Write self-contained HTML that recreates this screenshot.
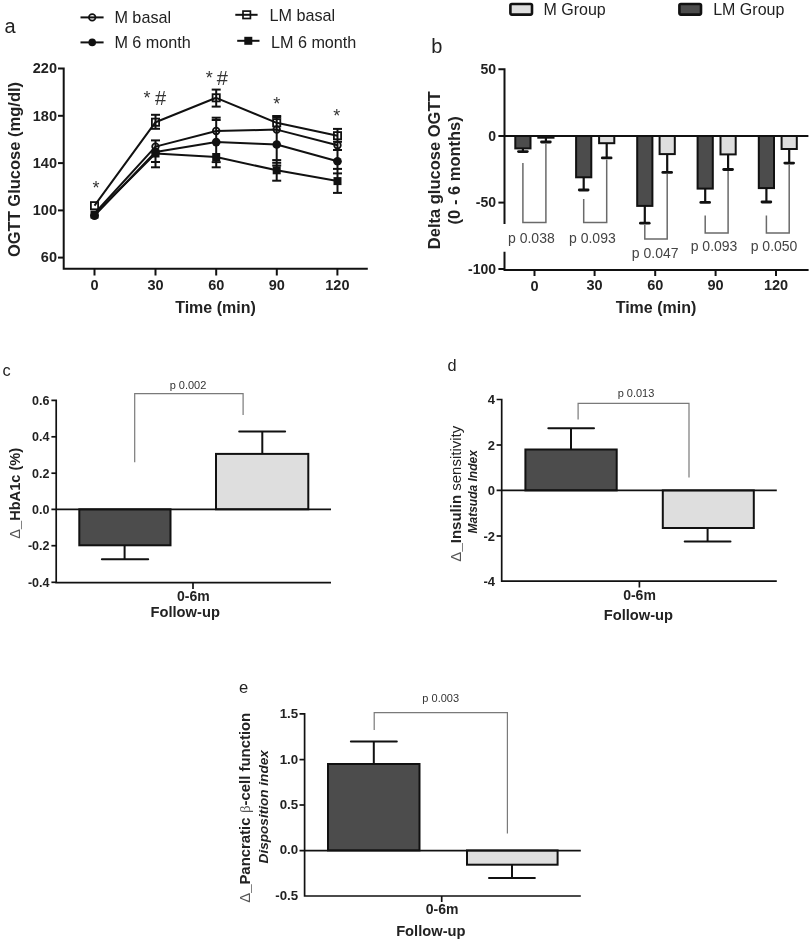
<!DOCTYPE html>
<html><head><meta charset="utf-8"><style>
html,body{margin:0;padding:0;background:#fff;}
svg{display:block;filter:grayscale(1) blur(0.4px);}
text{font-family:"Liberation Sans",sans-serif;}
.b{font-weight:bold;}
</style></head><body>
<svg width="811" height="943" viewBox="0 0 811 943">
<rect width="811" height="943" fill="#fff"/>

<!-- ================= PANEL A ================= -->
<g id="A">
<text x="4.6" y="33.4" font-size="20" fill="#222">a</text>
<!-- legend -->
<g stroke="#111" stroke-width="2" fill="none">
<line x1="80.5" y1="17.4" x2="103.6" y2="17.4"/>
<line x1="80.5" y1="42.4" x2="103.6" y2="42.4"/>
<line x1="235.3" y1="14.8" x2="257.6" y2="14.8"/>
<line x1="237.2" y1="40.8" x2="259.5" y2="40.8"/>
</g>
<circle cx="92.2" cy="17.4" r="3.3" fill="none" stroke="#111" stroke-width="1.7"/>
<circle cx="92.2" cy="42.4" r="3.8" fill="#111"/>
<rect x="243" y="11.1" width="7.4" height="7.4" fill="none" stroke="#111" stroke-width="1.7"/>
<rect x="244.3" y="36.8" width="8" height="8" fill="#111"/>
<g font-size="16.2" fill="#222">
<text x="114.4" y="22.9">M basal</text>
<text x="114.4" y="47.9">M 6 month</text>
<text x="269.4" y="21">LM basal</text>
<text x="270.9" y="47.6">LM 6 month</text>
</g>
<!-- axes -->
<g stroke="#111" stroke-width="2" fill="none">
<polyline points="58,68.5 63.7,68.5 63.7,268.7 367.8,268.7"/>
<line x1="58" y1="115.8" x2="63.7" y2="115.8"/>
<line x1="58" y1="163.1" x2="63.7" y2="163.1"/>
<line x1="58" y1="210.4" x2="63.7" y2="210.4"/>
<line x1="58" y1="257.6" x2="63.7" y2="257.6"/>
<line x1="94.5" y1="268.7" x2="94.5" y2="275.5"/>
<line x1="155.5" y1="268.7" x2="155.5" y2="275.5"/>
<line x1="216.2" y1="268.7" x2="216.2" y2="275.5"/>
<line x1="276.8" y1="268.7" x2="276.8" y2="275.5"/>
<line x1="337.4" y1="268.7" x2="337.4" y2="275.5"/>
</g>
<g font-size="14.5" class="b" fill="#222" text-anchor="end">
<text x="57" y="73.2">220</text>
<text x="57" y="120.5">180</text>
<text x="57" y="167.8">140</text>
<text x="57" y="215.1">100</text>
<text x="57" y="262.3">60</text>
</g>
<g font-size="14.5" class="b" fill="#222" text-anchor="middle">
<text x="94.5" y="289.5">0</text>
<text x="155.5" y="289.5">30</text>
<text x="216.2" y="289.5">60</text>
<text x="276.8" y="289.5">90</text>
<text x="337.4" y="289.5">120</text>
</g>
<text x="215.5" y="312.8" font-size="16" class="b" fill="#222" text-anchor="middle">Time (min)</text>
<text transform="translate(19.9,169.5) rotate(-90)" font-size="16.5" class="b" fill="#222" text-anchor="middle">OGTT Glucose (mg/dl)</text>
<!-- asterisks -->
<g font-size="18" fill="#333" text-anchor="middle">
<text x="96" y="193.6">*</text>
<text x="276.7" y="110.1">*</text>
<text x="336.8" y="122.1">*</text>
<text x="147" y="103.6">*</text>
<text x="209.2" y="84">*</text>
</g>
<g font-size="20" fill="#333" text-anchor="middle">
<text x="160.6" y="104.9">#</text>
<text x="222.4" y="85">#</text>
</g>
<!-- error bars -->
<g stroke="#111" stroke-width="2" fill="none">
<!-- t30 -->
<line x1="155.5" y1="114.8" x2="155.5" y2="128.8"/>
<line x1="151" y1="114.8" x2="160" y2="114.8"/>
<line x1="151" y1="128.8" x2="160" y2="128.8"/>
<line x1="155.5" y1="140.4" x2="155.5" y2="167.3"/>
<line x1="151" y1="140.4" x2="160" y2="140.4"/>
<line x1="151" y1="162" x2="160" y2="162"/>
<line x1="151" y1="167.3" x2="160" y2="167.3"/>
<!-- t60 -->
<line x1="216.2" y1="89.6" x2="216.2" y2="106.6"/>
<line x1="211.7" y1="89.6" x2="220.7" y2="89.6"/>
<line x1="211.7" y1="106.6" x2="220.7" y2="106.6"/>
<line x1="216.2" y1="117.7" x2="216.2" y2="167.3"/>
<line x1="211.7" y1="117.7" x2="220.7" y2="117.7"/>
<line x1="211.7" y1="120" x2="220.7" y2="120"/>
<line x1="211.7" y1="162.1" x2="220.7" y2="162.1"/>
<line x1="211.7" y1="167.3" x2="220.7" y2="167.3"/>
<!-- t90 -->
<line x1="276.7" y1="116" x2="276.7" y2="180.7"/>
<line x1="272.2" y1="116" x2="281.2" y2="116"/>
<line x1="272.2" y1="117.6" x2="281.2" y2="117.6"/>
<line x1="272.2" y1="160.1" x2="281.2" y2="160.1"/>
<line x1="272.2" y1="162.8" x2="281.2" y2="162.8"/>
<line x1="272.2" y1="165.5" x2="281.2" y2="165.5"/>
<line x1="272.2" y1="180.7" x2="281.2" y2="180.7"/>
<!-- t120 -->
<line x1="337.5" y1="128.9" x2="337.5" y2="192.9"/>
<line x1="333" y1="128.9" x2="342" y2="128.9"/>
<line x1="333" y1="141.8" x2="342" y2="141.8"/>
<line x1="333" y1="150" x2="342" y2="150"/>
<line x1="333" y1="168.9" x2="342" y2="168.9"/>
<line x1="333" y1="173.4" x2="342" y2="173.4"/>
<line x1="333" y1="192.9" x2="342" y2="192.9"/>
</g>
<!-- series lines -->
<g stroke="#111" stroke-width="2" fill="none" stroke-linejoin="round">
<polyline points="94.5,205.7 155.5,122.2 216.2,97.8 276.7,122.8 337.5,135.7"/>
<polyline points="94.5,213.5 155.5,146.6 216.2,131 276.7,129.6 337.5,145.2"/>
<polyline points="94.5,215.6 155.5,152 216.2,142.1 276.7,144.5 337.5,161.2"/>
<polyline points="94.5,214.6 155.5,153.5 216.2,157 276.7,170.3 337.5,181.1"/>
</g>
<!-- markers -->
<g fill="#111">
<rect x="90.5" y="210.6" width="8" height="8"/>
<rect x="151.5" y="149.5" width="8" height="8"/>
<rect x="212.2" y="153.0" width="8" height="8"/>
<rect x="272.7" y="166.3" width="8" height="8"/>
<rect x="333.5" y="177.1" width="8" height="8"/>
<circle cx="94.5" cy="215.6" r="4.4"/>
<circle cx="155.5" cy="152" r="4.3"/>
<circle cx="216.2" cy="142.1" r="4.3"/>
<circle cx="276.7" cy="144.5" r="4.3"/>
<circle cx="337.5" cy="161.2" r="4.3"/>
</g>
<g fill="none" stroke="#111" stroke-width="1.8">
<circle cx="155.5" cy="146.6" r="3.3"/>
<circle cx="216.2" cy="131" r="3.3"/>
<circle cx="276.7" cy="129.6" r="3.3"/>
<circle cx="337.5" cy="145.2" r="3.3"/>
<rect x="90.9" y="202.1" width="7.2" height="7.2"/>
<rect x="151.9" y="118.6" width="7.2" height="7.2"/>
<rect x="212.6" y="94.2" width="7.2" height="7.2"/>
<rect x="273.1" y="119.2" width="7.2" height="7.2"/>
<rect x="333.9" y="132.1" width="7.2" height="7.2"/>
</g>
</g>

<!-- ================= PANEL B ================= -->
<g id="B">
<text x="431.3" y="52.9" font-size="20" fill="#222">b</text>
<!-- legend -->
<rect x="510.4" y="4" width="21.6" height="10.6" rx="1.5" fill="#dedede" stroke="#111" stroke-width="2.6"/>
<rect x="679.4" y="4" width="21.6" height="10.6" rx="1.5" fill="#4c4c4c" stroke="#111" stroke-width="2.6"/>
<g font-size="16" fill="#222">
<text x="543.5" y="14.8">M Group</text>
<text x="713.2" y="14.8">LM Group</text>
</g>
<!-- bars -->
<g stroke="#111" stroke-width="2">
<rect x="515.3" y="136" width="15.2" height="12.4" fill="#4c4c4c"/>
<rect x="538.3" y="136" width="15.2" height="1.7" fill="#dedede"/>
<rect x="576.1" y="136" width="15.2" height="41.3" fill="#4c4c4c"/>
<rect x="599.1" y="136" width="15.2" height="7.2" fill="#dedede"/>
<rect x="637.2" y="136" width="15.2" height="69.9" fill="#4c4c4c"/>
<rect x="659.6" y="136" width="15.2" height="18.1" fill="#dedede"/>
<rect x="697.6" y="136" width="15.2" height="52.6" fill="#4c4c4c"/>
<rect x="720.5" y="136" width="15.2" height="18.4" fill="#dedede"/>
<rect x="758.8" y="136" width="15.2" height="52.1" fill="#4c4c4c"/>
<rect x="781.6" y="136" width="15.2" height="13.0" fill="#dedede"/>
</g>
<g stroke="#111" stroke-width="2.2" fill="none">
<line x1="522.9" y1="148.4" x2="522.9" y2="151.6"/>
<line x1="545.9" y1="137.7" x2="545.9" y2="142.0"/>
<line x1="583.7" y1="177.3" x2="583.7" y2="190.0"/>
<line x1="606.7" y1="143.2" x2="606.7" y2="157.9"/>
<line x1="644.8" y1="205.9" x2="644.8" y2="223.2"/>
<line x1="667.2" y1="154.1" x2="667.2" y2="172.4"/>
<line x1="705.2" y1="188.6" x2="705.2" y2="202.4"/>
<line x1="728.1" y1="154.4" x2="728.1" y2="169.5"/>
<line x1="766.4" y1="188.1" x2="766.4" y2="202.0"/>
<line x1="789.2" y1="149.0" x2="789.2" y2="163.1"/>
</g>
<g stroke="#111" stroke-width="2.8" stroke-linecap="round" fill="none">
<line x1="518.5" y1="151.6" x2="527.3" y2="151.6"/>
<line x1="541.5" y1="142.0" x2="550.3" y2="142.0"/>
<line x1="579.3" y1="190.0" x2="588.1" y2="190.0"/>
<line x1="602.3" y1="157.9" x2="611.1" y2="157.9"/>
<line x1="640.4" y1="223.2" x2="649.2" y2="223.2"/>
<line x1="662.8" y1="172.4" x2="671.6" y2="172.4"/>
<line x1="700.8" y1="202.4" x2="709.6" y2="202.4"/>
<line x1="723.7" y1="169.5" x2="732.5" y2="169.5"/>
<line x1="762.0" y1="202.0" x2="770.8" y2="202.0"/>
<line x1="784.8" y1="163.1" x2="793.6" y2="163.1"/>
</g>
<!-- brackets -->
<g stroke="#6a6a6a" stroke-width="1.5" fill="none">
<polyline points="522.9,163.1 522.9,222.5 545.9,222.5 545.9,143.5"/>
<polyline points="583.7,199.0 583.7,222.5 606.7,222.5 606.7,159.4"/>
<polyline points="644.8,224.7 644.8,238.9 667.2,238.9 667.2,173.9"/>
<polyline points="705.2,215.4 705.2,233.0 728.1,233.0 728.1,171.0"/>
<polyline points="766.4,215.4 766.4,233.0 789.2,233.0 789.2,164.6"/>
</g>
<!-- axes -->
<g stroke="#111" stroke-width="2" fill="none">
<polyline points="498.4,69.3 504.5,69.3 504.5,224"/>
<polyline points="504.5,251.7 504.5,270 808.6,270"/>
<line x1="504.5" y1="136" x2="808.4" y2="136"/>
<line x1="498.4" y1="136" x2="504.5" y2="136"/>
<line x1="498.4" y1="202.6" x2="504.5" y2="202.6"/>
<line x1="498.4" y1="269" x2="504.5" y2="269"/>
<line x1="534.5" y1="270" x2="534.5" y2="276"/>
<line x1="594.6" y1="270" x2="594.6" y2="276"/>
<line x1="655.2" y1="270" x2="655.2" y2="276"/>
<line x1="715.6" y1="270" x2="715.6" y2="276"/>
<line x1="776" y1="270" x2="776" y2="276"/>
</g>
<g font-size="14" fill="#444">
<text x="508" y="243.3">p 0.038</text>
<text x="569" y="243.3">p 0.093</text>
<text x="631.8" y="257.5">p 0.047</text>
<text x="690.7" y="250.5">p 0.093</text>
<text x="750.7" y="250.5">p 0.050</text>
</g>
<g font-size="14" class="b" fill="#222" text-anchor="end">
<text x="496" y="74.1">50</text>
<text x="496" y="140.8">0</text>
<text x="496" y="207.4">-50</text>
<text x="496" y="273.8">-100</text>
</g>
<g font-size="14.5" class="b" fill="#222" text-anchor="middle">
<text x="534.5" y="290.6">0</text>
<text x="594.6" y="290.4">30</text>
<text x="655.2" y="290.4">60</text>
<text x="715.6" y="290.4">90</text>
<text x="776" y="290.4">120</text>
</g>
<text x="656" y="313" font-size="16" class="b" fill="#222" text-anchor="middle">Time (min)</text>
<text transform="translate(439.8,170.3) rotate(-90)" font-size="16.5" class="b" fill="#222" text-anchor="middle">Delta glucose OGTT</text>
<text transform="translate(460,170.3) rotate(-90)" font-size="16.5" class="b" fill="#222" text-anchor="middle">(0 - 6 months)</text>
</g>

<!-- ================= PANEL C ================= -->
<g id="C">
<text x="2.6" y="375.9" font-size="16.3" fill="#222">c</text>
<g stroke="#7a7a7a" stroke-width="1.2" fill="none">
<polyline points="134.7,462.3 134.7,393.6 243.1,393.6 243.1,414.9"/>
</g>
<text x="188" y="388.6" font-size="11" fill="#333" text-anchor="middle">p 0.002</text>
<rect x="79.3" y="509.3" width="91.2" height="36" fill="#4c4c4c" stroke="#111" stroke-width="2"/>
<rect x="216" y="453.9" width="92.3" height="55.4" fill="#dedede" stroke="#111" stroke-width="2"/>
<g stroke="#111" stroke-width="2" fill="none">
<line x1="124.6" y1="545.5" x2="124.6" y2="559.2"/><line x1="101.9" y1="559.2" x2="148.2" y2="559.2" stroke-linecap="round"/>
<line x1="262.3" y1="453.9" x2="262.3" y2="431.5"/><line x1="239.2" y1="431.5" x2="285.1" y2="431.5" stroke-linecap="round"/>
</g>
<g stroke="#111" stroke-width="1.7" fill="none">
<polyline points="51.4,400.4 56.2,400.4 56.2,582.6 331,582.6"/>
<line x1="51.4" y1="436.8" x2="56.2" y2="436.8"/>
<line x1="51.4" y1="473.2" x2="56.2" y2="473.2"/>
<line x1="51.4" y1="509.3" x2="331" y2="509.3"/>
<line x1="51.4" y1="545.7" x2="56.2" y2="545.7"/>
<line x1="51.4" y1="582.3" x2="56.2" y2="582.3"/>
<line x1="193" y1="582.6" x2="193" y2="589"/>
</g>
<g font-size="12.5" class="b" fill="#222" text-anchor="end">
<text x="49.5" y="404.9">0.6</text>
<text x="49.5" y="441.3">0.4</text>
<text x="49.5" y="477.7">0.2</text>
<text x="49.5" y="513.8">0.0</text>
<text x="49.5" y="550.2">-0.2</text>
<text x="49.5" y="586.8">-0.4</text>
</g>
<text x="193.3" y="600.8" font-size="14" class="b" fill="#222" text-anchor="middle">0-6m</text>
<text x="185.2" y="616.5" font-size="14.7" class="b" fill="#222" text-anchor="middle">Follow-up</text>
<text transform="translate(20,493.3) rotate(-90)" font-size="14.6" class="b" fill="#222" text-anchor="middle"><tspan font-weight="normal" fill="#555">Δ</tspan>_HbA1c (%)</text>
</g>

<!-- ================= PANEL D ================= -->
<g id="D">
<text x="447.6" y="371.2" font-size="16.3" fill="#222">d</text>
<g stroke="#7a7a7a" stroke-width="1.2" fill="none">
<polyline points="578.1,419.6 578.1,403.3 689,403.3 689,477.4"/>
</g>
<text x="636" y="397" font-size="11" fill="#333" text-anchor="middle">p 0.013</text>
<rect x="525.4" y="449.5" width="91.3" height="40.9" fill="#4c4c4c" stroke="#111" stroke-width="2"/>
<rect x="662.8" y="490.4" width="91" height="37.6" fill="#dedede" stroke="#111" stroke-width="2"/>
<g stroke="#111" stroke-width="2" fill="none">
<line x1="571" y1="449.5" x2="571" y2="428.2"/><line x1="548.3" y1="428.2" x2="594" y2="428.2" stroke-linecap="round"/>
<line x1="707.6" y1="528" x2="707.6" y2="541.5"/><line x1="684.7" y1="541.5" x2="730.5" y2="541.5" stroke-linecap="round"/>
</g>
<g stroke="#111" stroke-width="1.7" fill="none">
<polyline points="496.6,399.5 501.7,399.5 501.7,581.2 776.8,581.2"/>
<line x1="496.6" y1="445" x2="501.7" y2="445"/>
<line x1="496.6" y1="490.4" x2="776.8" y2="490.4"/>
<line x1="496.6" y1="536" x2="501.7" y2="536"/>
<line x1="639.4" y1="581.2" x2="639.4" y2="587.5"/>
</g>
<g font-size="13" class="b" fill="#222" text-anchor="end">
<text x="495" y="403.9">4</text>
<text x="495" y="449.5">2</text>
<text x="495" y="494.9">0</text>
<text x="495" y="540.5">-2</text>
<text x="495" y="585.9">-4</text>
</g>
<text x="639.5" y="599.7" font-size="14" class="b" fill="#222" text-anchor="middle">0-6m</text>
<text x="638.4" y="619.5" font-size="14.7" class="b" fill="#222" text-anchor="middle">Follow-up</text>
<text transform="translate(461,493.7) rotate(-90)" font-size="15" class="b" fill="#222" text-anchor="middle"><tspan font-weight="normal" fill="#555">Δ</tspan>_Insulin <tspan font-weight="normal">sensitivity</tspan></text>
<text transform="translate(477,491.8) rotate(-90)" font-size="12" font-weight="bold" font-style="italic" fill="#222" text-anchor="middle">Matsuda Index</text>
</g>

<!-- ================= PANEL E ================= -->
<g id="E">
<text x="239" y="693.2" font-size="16.6" fill="#222">e</text>
<g stroke="#7a7a7a" stroke-width="1.2" fill="none">
<polyline points="374.2,730 374.2,712.7 507.4,712.7 507.4,833.6"/>
</g>
<text x="440.7" y="702" font-size="11" fill="#333" text-anchor="middle">p 0.003</text>
<rect x="328" y="764" width="91.5" height="86.4" fill="#4c4c4c" stroke="#111" stroke-width="2"/>
<rect x="467" y="850.4" width="90.6" height="14.3" fill="#dedede" stroke="#111" stroke-width="2"/>
<g stroke="#111" stroke-width="2" fill="none">
<line x1="373.8" y1="764" x2="373.8" y2="741.4"/><line x1="350.9" y1="741.4" x2="396.8" y2="741.4" stroke-linecap="round"/>
<line x1="512" y1="864.7" x2="512" y2="878"/><line x1="489" y1="878" x2="534.9" y2="878" stroke-linecap="round"/>
</g>
<g stroke="#111" stroke-width="1.7" fill="none">
<polyline points="299.5,713.8 304.6,713.8 304.6,896 580.8,896"/>
<line x1="299.5" y1="759.6" x2="304.6" y2="759.6"/>
<line x1="299.5" y1="805" x2="304.6" y2="805"/>
<line x1="299.5" y1="850.6" x2="580.8" y2="850.6"/>
<line x1="441.7" y1="896" x2="441.7" y2="902"/>
</g>
<g font-size="13.3" class="b" fill="#222" text-anchor="end">
<text x="298.2" y="717.9">1.5</text>
<text x="298.2" y="763.5">1.0</text>
<text x="298.2" y="808.9">0.5</text>
<text x="298.2" y="854.3">0.0</text>
<text x="298.2" y="899.7">-0.5</text>
</g>
<text x="442.1" y="913.6" font-size="14" class="b" fill="#222" text-anchor="middle">0-6m</text>
<text x="430.8" y="936.3" font-size="14.7" class="b" fill="#222" text-anchor="middle">Follow-up</text>
<text transform="translate(250,902.8) rotate(-90)" font-size="14.9" class="b" fill="#222"><tspan font-weight="normal" fill="#555">Δ</tspan>_Pancratic<tspan dx="4.5" font-family="Liberation Serif" font-weight="normal" fill="#555">β</tspan>-cell function</text>
<text transform="translate(267.5,806.8) rotate(-90)" font-size="13.6" font-weight="bold" font-style="italic" fill="#222" text-anchor="middle">Disposition index</text>
</g>
</svg>
</body></html>
